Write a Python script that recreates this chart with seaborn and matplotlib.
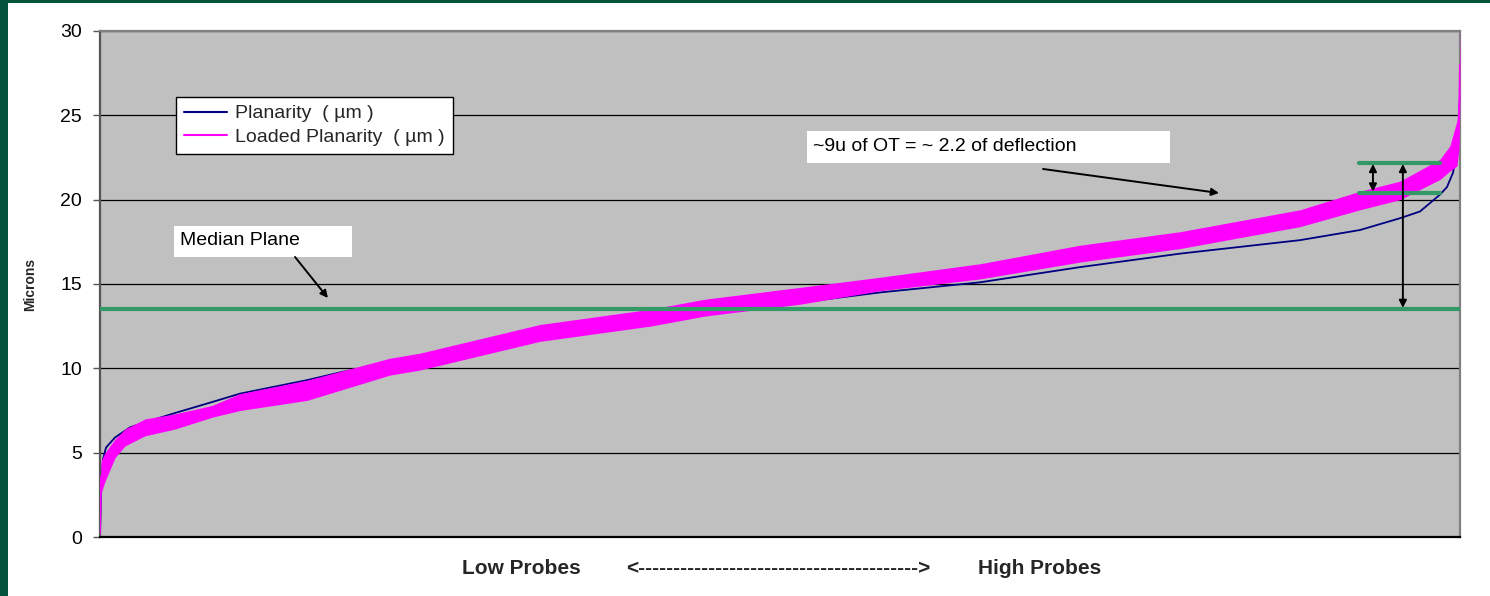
import matplotlib
matplotlib.use("Agg")
import matplotlib.pyplot as plt
import matplotlib.transforms as mtransforms
from matplotlib.patches import Rectangle
import pandas as pd
import seaborn as sns

# ---------------- data ----------------
planarity_probe = [0, 1, 3, 6, 15, 30, 45, 75, 112, 140, 207, 243, 290, 377, 487,
                   603, 700, 780, 880, 980, 1080, 1200, 1260, 1300, 1320, 1340,
                   1347, 1353, 1355, 1358, 1360]
planarity = [0.0, 2.5, 4.6, 5.3, 5.9, 6.5, 6.8, 7.35, 8.0, 8.5, 9.3, 9.8, 10.3, 11.3, 12.3,
             13.3, 13.9, 14.5, 15.1, 16.0, 16.8, 17.6, 18.2, 18.9, 19.3, 20.3,
             20.75, 21.6, 22.2, 23.5, 26.0]

loaded_probe = [0, 1, 5, 15, 25, 45, 75, 112, 140, 207, 290, 320, 440, 550, 605,
                700, 780, 880, 980, 1080, 1200, 1260, 1300, 1340, 1350, 1357, 1359, 1360]
loaded_low = [0.0, 2.6, 3.3, 4.7, 5.4, 6.0, 6.4, 7.1, 7.5, 8.1, 9.6, 9.9, 11.6, 12.5, 13.1,
              13.8, 14.6, 15.3, 16.3, 17.1, 18.4, 19.4, 20.0, 21.2, 21.7, 22.0, 23.0, 26.0]
loaded_high = [0.4, 4.5, 5.0, 5.8, 6.4, 7.0, 7.3, 7.8, 8.5, 9.3, 10.6, 10.9, 12.6, 13.5, 14.1,
               14.8, 15.4, 16.2, 17.3, 18.1, 19.4, 20.5, 21.1, 22.4, 23.2, 24.7, 26.5, 30.0]

median_plane = 13.5
ot_top = 22.2
ot_bottom = 20.4

y_ticks = [0, 5, 10, 15, 20, 25, 30]
series_labels = ["Planarity  ( µm )", "Loaded Planarity  ( µm )"]
note_median = "Median Plane"
note_ot = "~9u of OT = ~ 2.2 of deflection"
xlabel_left = "Low Probes"
xlabel_mid = "<" + "-" * 40 + ">"
xlabel_right = "High Probes"
ylabel = "Microns"

# ---------------- style ----------------
sns.set_theme(style="white")
plt.rcParams['font.family'] = ['Liberation Sans', 'DejaVu Sans']

W, H = 1490, 596
fig = plt.figure(figsize=(W / 100, H / 100), dpi=100)
fig.patch.set_facecolor('white')

# dark green slide border
border = '#03523A'
fig.add_artist(Rectangle((0, 0), 8 / W, 1, transform=fig.transFigure,
                         facecolor=border, edgecolor='none', zorder=0))
fig.add_artist(Rectangle((0, 1 - 3 / H), 1, 3 / H, transform=fig.transFigure,
                         facecolor=border, edgecolor='none', zorder=0))

ax = fig.add_axes([100 / W, (H - 537) / H, 1360 / W, 506 / H])
ax.set_facecolor('#C0C0C0')

plan_df = pd.DataFrame({'probe': planarity_probe, 'value': planarity})
loaded_df = pd.DataFrame({'probe': loaded_probe + loaded_probe,
                          'value': loaded_low + loaded_high})

green = '#339966'

sns.lineplot(data=plan_df, x='probe', y='value', color='#000080', linewidth=1.3,
             ax=ax, label=series_labels[0], zorder=2)
sns.lineplot(data=loaded_df, x='probe', y='value', estimator='mean',
             errorbar=('pi', 100), color='#FF00FF', linewidth=1.3, ax=ax,
             label=series_labels[1], zorder=3.5,
             err_kws={'alpha': 1, 'linewidth': 0, 'zorder': 3})

# median plane and OT reference lines
ax.axhline(median_plane, color=green, lw=3, zorder=4)
ax.axhline(ot_top, xmin=0.9257, xmax=0.9853, color=green, lw=3, zorder=4)
ax.axhline(ot_bottom, xmin=0.9257, xmax=0.9853, color=green, lw=3, zorder=4)

blend = mtransforms.blended_transform_factory(ax.transAxes, ax.transData)
dbl = dict(arrowstyle='<|-|>', color='black', lw=1.4, mutation_scale=11,
           shrinkA=1, shrinkB=1)
ax.annotate('', xy=(0.936, ot_bottom), xytext=(0.936, ot_top),
            xycoords=blend, textcoords=blend, arrowprops=dbl, zorder=6)
ax.annotate('', xy=(0.958, median_plane), xytext=(0.958, ot_top),
            xycoords=blend, textcoords=blend, arrowprops=dbl, zorder=6)

# annotation boxes
single = dict(arrowstyle='-|>', color='black', lw=1.4, mutation_scale=11,
              shrinkA=0, shrinkB=0)
ax.add_patch(Rectangle((0.0544, 0.5534), 0.1309, 0.0613, transform=ax.transAxes,
                       facecolor='white', edgecolor='none', zorder=5))
ax.text(0.0588, 0.585, note_median, transform=ax.transAxes, fontsize=14,
        ha='left', va='center', zorder=6, color='black')
ax.annotate('', xy=(0.1676, 0.4723), xytext=(0.1434, 0.5534),
            xycoords='axes fraction', arrowprops=single, zorder=6)

ax.add_patch(Rectangle((0.5199, 0.7391), 0.2669, 0.0633, transform=ax.transAxes,
                       facecolor='white', edgecolor='none', zorder=5))
ax.text(0.5243, 0.7708, note_ot, transform=ax.transAxes, fontsize=14,
        ha='left', va='center', zorder=6, color='black')
ax.annotate('', xy=(0.8228, 0.6798), xytext=(0.6934, 0.7273),
            xycoords='axes fraction', arrowprops=single, zorder=6)

# axes
ax.set_xlim(0, 1360)
ax.set_ylim(0, 30)
ax.set_xticks([])
ax.set_yticks(y_ticks)
ax.set_yticklabels([str(t) for t in y_ticks])
ax.tick_params(axis='y', left=True, length=5, width=1, color='#555555', pad=8,
               labelsize=14, labelcolor='black')
ax.yaxis.grid(True, color='black', lw=0.9)
ax.xaxis.grid(False)
ax.set_axisbelow(True)
ax.set_xlabel('')
ax.set_ylabel('')
for side, col in [('left', '#555555'), ('bottom', 'black'), ('top', '#808080'),
                  ('right', '#808080')]:
    ax.spines[side].set_visible(True)
    ax.spines[side].set_color(col)
    ax.spines[side].set_linewidth(1.6)

# legend
handles, labels = ax.get_legend_handles_labels()
leg = ax.legend(handles, labels, loc='upper left', bbox_to_anchor=(0.0559, 0.8696),
                borderaxespad=0, frameon=True, fancybox=False, edgecolor='black',
                facecolor='white', framealpha=1, fontsize=14, handlelength=2.2,
                borderpad=0.4, labelspacing=0.3, handletextpad=0.45)
leg.get_frame().set_linewidth(1.0)
for ln in leg.get_lines():
    ln.set_linewidth(1.5)
leg.set_zorder(7)

# axis titles
fig.text(30 / W, 1 - 284 / H, ylabel, rotation=90, ha='center', va='center',
         fontsize=10, fontweight='bold')
ty = 1 - 569 / H
fig.text(521.5 / W, ty, xlabel_left, ha='center', va='center', fontsize=15,
         fontweight='bold')
fig.text(778.5 / W, ty, xlabel_mid, ha='center', va='center', fontsize=15,
         fontweight='bold')
fig.text(1039.5 / W, ty, xlabel_right, ha='center', va='center', fontsize=15,
         fontweight='bold')

fig.savefig('out.png', dpi=100)
